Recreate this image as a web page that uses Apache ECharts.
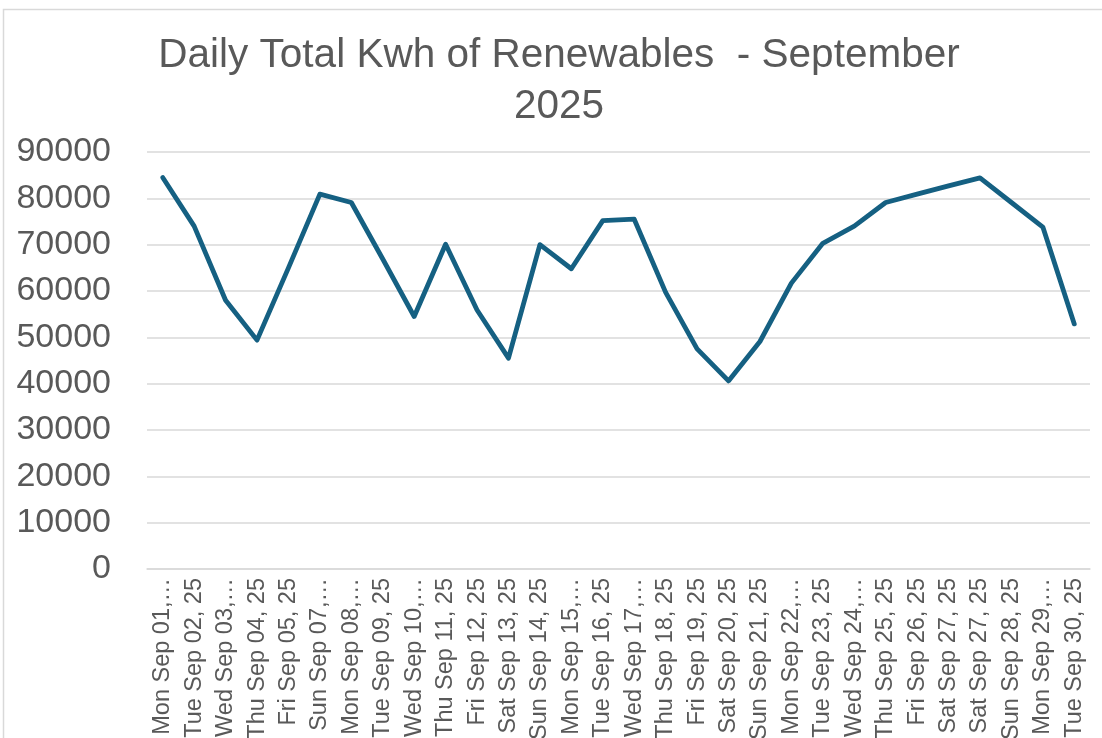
<!DOCTYPE html>
<html>
<head>
<meta charset="utf-8">
<script src="https://cdn.jsdelivr.net/npm/echarts@6/dist/echarts.min.js"></script>
<style>
  html, body { margin: 0; padding: 0; background: #fff; }
  #chart { width: 1102px; height: 738px; }
</style>
</head>
<body>
<div id="chart"></div>
<script>
// day labels as shown under the axis (Excel cut some of them)
var days = [
  'Mon Sep 01,…', 'Tue Sep 02, 25', 'Wed Sep 03,…', 'Thu Sep 04, 25', 'Fri Sep 05, 25',
  'Sun Sep 07,…', 'Mon Sep 08,…', 'Tue Sep 09, 25', 'Wed Sep 10,…', 'Thu Sep 11, 25',
  'Fri Sep 12, 25', 'Sat Sep 13, 25', 'Sun Sep 14, 25', 'Mon Sep 15,…', 'Tue Sep 16, 25',
  'Wed Sep 17,…', 'Thu Sep 18, 25', 'Fri Sep 19, 25', 'Sat Sep 20, 25', 'Sun Sep 21, 25',
  'Mon Sep 22,…', 'Tue Sep 23, 25', 'Wed Sep 24,…', 'Thu Sep 25, 25', 'Fri Sep 26, 25',
  'Sat Sep 27, 25', 'Sat Sep 27, 25', 'Sun Sep 28, 25', 'Mon Sep 29,…', 'Tue Sep 30, 25'
];

// total kwh per day
var kwh = [
  84500, 74000, 58000, 49400, 65000,
  80900, 79100, 66900, 54500, 70100,
  55900, 45500, 70000, 64800, 75200,
  75500, 59700, 47500, 40600, 49100,
  61700, 70300, 74000, 79100, 80900,
  82700, 84400, 79100, 73800, 52900
];

var yMin = 0, yMax = 90000, yStep = 10000;

var myChart = echarts.init(document.getElementById('chart'));

var option = {
  animation: false,
  backgroundColor: '#ffffff',
  textStyle: { fontFamily: 'Liberation Sans, Arial, sans-serif' },
  title: {
    text: 'Daily Total Kwh of Renewables  - September\n2025',
    left: 554,
    top: 25,
    textAlign: 'center',
    textStyle: {
      color: '#595959',
      fontSize: 40.5,
      fontWeight: 'normal',
      lineHeight: 51
    }
  },
  // chart area outline
  graphic: [{
    type: 'rect',
    shape: { x: 3.5, y: 9.5, width: 1200, height: 800 },
    style: { fill: 'none', stroke: '#d9d9d9', lineWidth: 1.5 },
    silent: true
  }],
  grid: {
    left: 147,
    right: 12,
    top: 152,
    bottom: 169,
    containLabel: false,
    outerBoundsMode: 'none'
  },
  xAxis: {
    type: 'category',
    data: days,
    boundaryGap: true,
    axisLine: { show: true, lineStyle: { color: '#d9d9d9', width: 1.5 } },
    axisTick: { show: false },
    axisLabel: {
      rotate: 90,
      interval: 0,
      margin: 9,
      color: '#595959',
      fontSize: 23.5
    },
    splitLine: { show: false }
  },
  yAxis: {
    type: 'value',
    min: yMin,
    max: yMax,
    interval: yStep,
    axisLine: { show: false },
    axisTick: { show: false },
    axisLabel: {
      color: '#595959',
      fontSize: 34,
      margin: 36,
      formatter: function (v) { return String(v); }
    },
    splitLine: { lineStyle: { color: '#d9d9d9', width: 1.5 } }
  },
  series: [{
    name: 'Kwh',
    type: 'line',
    data: kwh,
    showSymbol: false,
    symbol: 'none',
    lineStyle: { color: '#156082', width: 4.8, cap: 'round', join: 'round' },
    itemStyle: { color: '#156082' }
  }]
};

myChart.setOption(option);
</script>
</body>
</html>
